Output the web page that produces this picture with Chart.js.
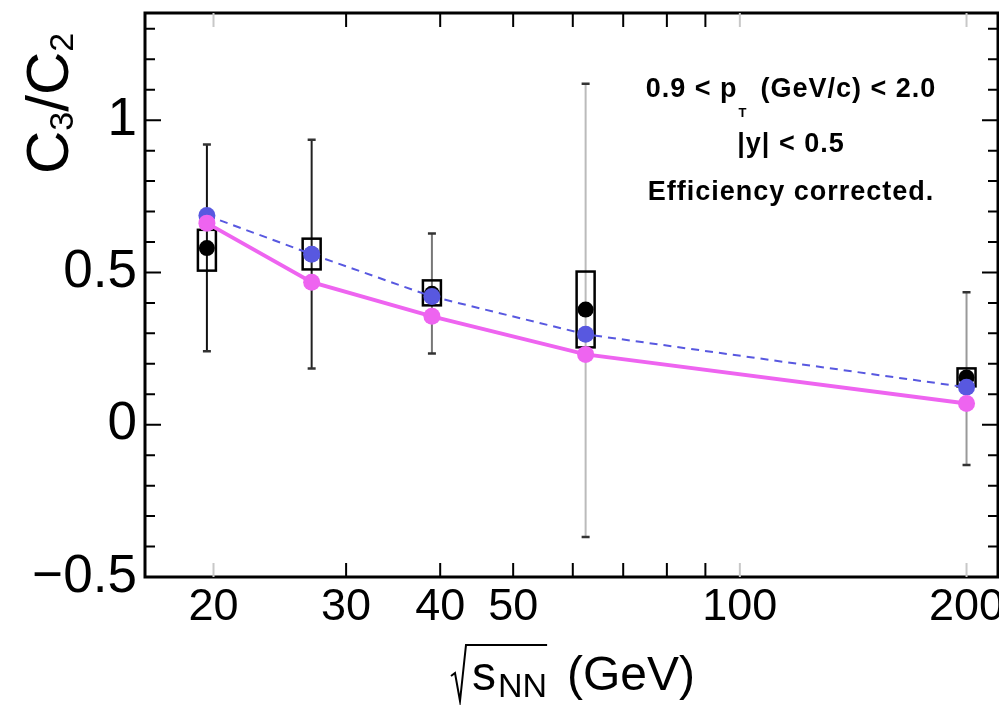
<!DOCTYPE html>
<html>
<head>
<meta charset="utf-8">
<script src="https://cdn.jsdelivr.net/npm/chart.js@4/dist/chart.umd.min.js"></script>
<style>
  body { margin: 0; background: #fff; }
  canvas { display: block; }
</style>
</head>
<body>
<canvas id="c3c2Canvas" width="999" height="705"></canvas>
<script>
// collision energies (GeV)
const energies = [19.6, 27, 39, 62.4, 200];
// measured C3/C2 with stat. error bars and sys. boxes
const dataC3C2 = [0.58, 0.56, 0.43, 0.378, 0.155];
const statLow  = [0.241, 0.185, 0.234, -0.369, -0.132];
const statHigh = [0.92, 0.936, 0.628, 1.12, 0.435];
const sysLow   = [0.506, 0.51, 0.392, 0.254, 0.126];
const sysHigh  = [0.64, 0.611, 0.474, 0.503, 0.185];
// model curves
const modelBlue = [0.687, 0.56, 0.421, 0.297, 0.123];
const modelPink = [0.662, 0.468, 0.356, 0.231, 0.07];
// axis ticks
const xTicks  = [20, 30, 40, 50, 60, 70, 80, 90, 100, 200];
const xLabels = [20, 30, 40, 50, 100, 200];
const yTicks  = [-0.5, 0, 0.5, 1];

const errColors = ['#111', '#222', '#777', '#bbb', '#999'];
const pink = 'rgb(238,100,240)';
const blue = 'rgb(88,88,224)';
const sans = "'Liberation Sans', Arial, sans-serif";

const toPoints = (ys) => energies.map((x, i) => ({x: x, y: ys[i]}));

const extrasPlugin = {
    id: 'extras',
    beforeDatasetsDraw(chart) {
        const ctx = chart.ctx;
        const xs = chart.scales.x, ys = chart.scales.y;
        ctx.save();
        energies.forEach((e, i) => {
            const px = xs.getPixelForValue(e);
            const top = ys.getPixelForValue(statHigh[i]);
            const bot = ys.getPixelForValue(statLow[i]);
            ctx.strokeStyle = errColors[i];
            ctx.lineWidth = 2;
            ctx.beginPath();
            ctx.moveTo(px, top); ctx.lineTo(px, bot);
            ctx.stroke();
            // caps
            ctx.strokeStyle = '#333';
            ctx.lineWidth = 2.5;
            ctx.beginPath();
            ctx.moveTo(px - 4, top); ctx.lineTo(px + 4, top);
            ctx.moveTo(px - 4, bot); ctx.lineTo(px + 4, bot);
            ctx.stroke();
            // systematic box
            const bt = ys.getPixelForValue(sysHigh[i]);
            const bb = ys.getPixelForValue(sysLow[i]);
            ctx.strokeStyle = '#000';
            ctx.lineWidth = 2.5;
            ctx.strokeRect(px - 9, bt, 18, bb - bt);
        });
        ctx.restore();
    },
    afterDraw(chart) {
        const ctx = chart.ctx;
        const a = chart.chartArea;
        const xs = chart.scales.x, ys = chart.scales.y;
        ctx.save();
        // frame
        ctx.strokeStyle = '#000';
        ctx.lineWidth = 3;
        ctx.strokeRect(a.left, a.top, a.right - a.left, a.bottom - a.top);

        // y ticks (inside, both sides)
        ctx.lineWidth = 2;
        for (let k = -5; k <= 13; k++) {
            const v = k / 10;
            const py = ys.getPixelForValue(v);
            const len = (k % 5 === 0) ? 16 : 10;
            ctx.beginPath();
            ctx.moveTo(a.left, py); ctx.lineTo(a.left + len, py);
            ctx.moveTo(a.right, py); ctx.lineTo(a.right - len, py);
            ctx.stroke();
        }
        // x ticks (inside, bottom and top)
        xTicks.forEach((v) => {
            const px = xs.getPixelForValue(v);
            ctx.strokeStyle = (v === 20 || v === 100 || v === 200) ? '#c8c8c8' : '#000';
            ctx.beginPath();
            ctx.moveTo(px, a.bottom); ctx.lineTo(px, a.bottom - 14);
            ctx.moveTo(px, a.top); ctx.lineTo(px, a.top + 14);
            ctx.stroke();
        });

        ctx.fillStyle = '#000';
        ctx.strokeStyle = '#000';
        ctx.textBaseline = 'alphabetic';

        // x title: sqrt(s_NN) (GeV)
        const sx = 472, base = 690;
        ctx.font = '48px ' + sans;
        ctx.textAlign = 'left';
        ctx.fillText('s', sx, base);
        const sw = ctx.measureText('s').width;
        ctx.font = '34px ' + sans;
        ctx.fillText('NN', sx + sw + 2, base + 7);
        const nw = ctx.measureText('NN').width;
        ctx.font = '48px ' + sans;
        ctx.fillText('(GeV)', 567, base);
        ctx.lineWidth = 2;
        ctx.beginPath();
        ctx.moveTo(451, 676); ctx.lineTo(455, 673);
        ctx.lineTo(460, 701); ctx.lineTo(466, 645);
        ctx.lineTo(sx + sw + 2 + nw, 645);
        ctx.stroke();

        // y title: C3/C2 (rotated)
        ctx.save();
        ctx.translate(68, 174);
        ctx.rotate(-Math.PI / 2);
        let cx = 0;
        const part = (t, size, dy) => {
            ctx.font = size + 'px ' + sans;
            ctx.fillText(t, cx, dy);
            cx += ctx.measureText(t).width;
        };
        part('C', 60, 0);
        part('3', 34, 5);
        part('/', 60, 0);
        part('C', 60, 0);
        part('2', 34, 5);
        ctx.restore();

        // annotation text
        const bold = (s) => 'bold ' + s + 'px ' + sans;
        const cxText = 791;
        ctx.letterSpacing = '1px';
        ctx.font = bold(27);
        const p1 = '0.9 < p', p2 = '(GeV/c) < 2.0';
        const w1 = ctx.measureText(p1).width;
        const w2 = ctx.measureText(p2).width;
        ctx.font = bold(13);
        const wt = ctx.measureText('T').width;
        const gap = 14;
        const total = w1 + wt + gap + w2;
        let lx = cxText - total / 2;
        ctx.textAlign = 'left';
        ctx.font = bold(27);
        ctx.fillText(p1, lx, 97);
        ctx.font = bold(13);
        ctx.fillText('T', lx + w1 + 1, 117);
        ctx.font = bold(27);
        ctx.fillText(p2, lx + w1 + wt + gap, 97);
        ctx.textAlign = 'center';
        ctx.fillText('|y| < 0.5', cxText, 152);
        ctx.fillText('Efficiency corrected.', cxText, 200);
        ctx.restore();
    }
};

const canvas = document.getElementById('c3c2Canvas');
const ctx = canvas.getContext('2d');

const c3c2Chart = new Chart(ctx, {
    type: 'scatter',
    data: {
        datasets: [
            {
                label: 'model pink',
                data: toPoints(modelPink),
                showLine: true,
                borderColor: pink,
                borderWidth: 4,
                backgroundColor: pink,
                pointRadius: 8.5,
                pointBorderWidth: 0,
                pointBackgroundColor: pink
            },
            {
                label: 'model blue',
                data: toPoints(modelBlue),
                showLine: true,
                borderColor: blue,
                borderWidth: 2,
                borderDash: [8, 6],
                backgroundColor: blue,
                pointRadius: 8.5,
                pointBorderWidth: 0,
                pointBackgroundColor: blue
            },
            {
                label: 'data',
                data: toPoints(dataC3C2),
                showLine: false,
                pointRadius: 8,
                pointBorderWidth: 0,
                pointBackgroundColor: '#000'
            }
        ]
    },
    options: {
        responsive: false,
        animation: false,
        layout: {autoPadding: false, padding: {top: 13, right: 1, left: 0, bottom: 0}},
        plugins: {
            legend: {display: false},
            tooltip: {enabled: false}
        },
        scales: {
            x: {
                type: 'logarithmic',
                min: 16.22,
                max: 220.2,
                afterBuildTicks: (s) => { s.ticks = xTicks.map((v) => ({value: v})); },
                afterFit: (s) => { s.height = 128; s.paddingLeft = 0; s.paddingRight = 0; },
                grid: {display: false, drawTicks: false},
                border: {display: false},
                ticks: {
                    autoSkip: false,
                    maxRotation: 0,
                    padding: 4,
                    color: '#000',
                    font: {family: sans, size: 45},
                    callback: (v) => xLabels.includes(v) ? String(v) : ''
                }
            },
            y: {
                min: -0.5,
                max: 1.352,
                afterBuildTicks: (s) => { s.ticks = yTicks.map((v) => ({value: v})); },
                afterFit: (s) => { s.width = 145; s.paddingTop = 0; s.paddingBottom = 0; },
                grid: {display: false, drawTicks: false},
                border: {display: false},
                ticks: {
                    padding: 8,
                    color: '#000',
                    font: {family: sans, size: 53},
                    callback: (v) => v < 0 ? '\u2212' + Math.abs(v) : String(v)
                }
            }
        }
    },
    plugins: [extrasPlugin]
});
</script>
</body>
</html>
